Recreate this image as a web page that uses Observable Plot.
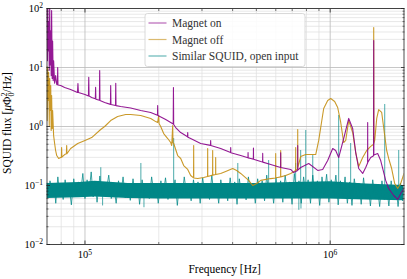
<!DOCTYPE html>
<html><head><meta charset="utf-8">
<script src="https://cdn.jsdelivr.net/npm/d3@7"></script>
<script src="https://cdn.jsdelivr.net/npm/@observablehq/plot@0.6"></script>
<style>body{margin:0;background:#fff;} svg{display:block}</style>
</head><body><div id="chart"></div>
<script>
// frequencies in kHz, values in µΦ0²/Hz
const magnetOn = [[70.0,200],[70.3,13],[70.5,150],[70.8,19],[71.1,60],[71.5,9],[71.8,150],[72.1,11],[72.5,42],[72.8,7.3],[73.1,92],[73.5,6.5],[73.8,28],[74.2,6],[74.5,13],[75.2,5.4],[75.9,7.3],[76.7,5.15],[77.2,5.1],[77.4,10],[77.6,5.05],[79.6,4.95],[82.6,4.58],[87.4,4.24],[93.2,3.78],[93.6,5.36],[94.0,3.76],[100,3.48],[103.3,3.3],[103.6,6.8],[103.9,3.28],[106.5,3.1],[110.2,2.95],[110.5,4.6],[110.8,2.9],[114.5,2.78],[114.8,8.9],[115.1,2.76],[120.3,2.55],[127.0,2.37],[127.3,4.95],[127.6,2.36],[133.2,2.27],[133.5,5.4],[133.8,2.26],[139.8,2.18],[153.6,2.06],[168.8,1.87],[185.4,1.73],[197.5,1.55],[197.9,2.27],[198.3,1.54],[213.4,1.31],[223.7,1.17],[229.0,1.1],[229.5,4.58],[230.0,1.08],[234.4,0.96],[245.7,0.79],[262.0,0.67],[262.4,0.79],[262.8,0.66],[269.8,0.625],[296.4,0.515],[325.0,0.478],[325.5,0.58],[326.0,0.476],[357.6,0.424],[392.5,0.362],[392.9,0.44],[393.4,0.36],[431.5,0.322],[462,0.295],[462.5,0.362],[463,0.294],[474.1,0.287],[486,0.28],[486.5,0.43],[487,0.279],[520.8,0.255],[530.2,0.25],[530.6,0.35],[531,0.249],[572.0,0.227],[628,0.202],[628.3,0.36],[628.7,0.202],[690.2,0.187],[710.0,0.166],[737,0.18],[737.2,0.477],[737.5,0.182],[758.2,0.202],[817.3,0.236],[889.5,0.18],[932.1,0.187],[976.8,0.265],[1024,0.424],[1053,0.392],[1083,0.298],[1135,0.625],[1190,1.37],[1235,0.925],[1271,0.362],[1307,0.194],[1357,0.16],[1396,0.202],[1421,0.24],[1422,1.17],[1423,0.245],[1463,0.298],[1503,0.32],[1505,28.7],[1507,0.33],[1562,0.348],[1607,0.265],[1684,0.122],[1732,0.089],[1816,0.0677],[1885,0.058],[1939,0.073],[2000,0.089]];

const magnetOff = [[70.0,10.4],[70.1,1.26],[70.5,9.6],[70.8,2.76],[71.1,8.2],[71.5,1.04],[71.8,6.5],[72.1,1.87],[72.5,4.95],[72.8,0.855],[73.1,3.35],[73.5,0.925],[73.8,1.87],[74.5,0.70],[75.2,0.515],[75.9,0.392],[76.7,0.322],[78.1,0.287],[79.6,0.298],[80.1,0.30],[80.3,0.44],[80.5,0.302],[82.6,0.335],[84.0,0.345],[84.2,0.477],[84.4,0.346],[87.4,0.424],[93.4,0.515],[100,0.58],[106.5,0.65],[115.9,0.89],[120.3,1.0],[127.3,1.26],[135.9,1.48],[146.6,1.60],[153.6,1.60],[168.8,1.54],[185.4,1.37],[194.3,1.21],[197.9,1.17],[199.8,1.54],[200.5,1.12],[203.6,1.0],[209.4,0.76],[217.5,0.625],[223.7,0.535],[225.8,0.477],[227.9,1.04],[228.5,0.53],[230.1,0.515],[238.8,0.322],[245.7,0.287],[252.7,0.218],[262.4,0.187],[269.8,0.148],[277.2,0.135],[277.5,0.477],[277.8,0.134],[288.1,0.131],[304.8,0.137],[316.2,0.142],[316.5,0.424],[316.8,0.142],[331.4,0.15],[331.7,0.392],[332,0.15],[341,0.154],[341.2,0.298],[341.4,0.154],[357.6,0.16],[374.8,0.173],[400.3,0.194],[415.6,0.18],[431.5,0.16],[465.2,0.122],[483.1,0.1],[501.6,0.108],[520.8,0.122],[572.0,0.131],[599.2,0.134],[599.5,0.348],[599.8,0.135],[610.9,0.137],[628,0.14],[628.3,0.392],[628.6,0.14],[658.5,0.148],[690.2,0.16],[723,0.18],[723.4,0.44],[723.8,0.18],[737,0.19],[737.2,0.89],[737.5,0.2],[758.2,0.31],[794.6,0.335],[872.9,0.335],[897.8,0.58],[940.8,2.02],[976.8,2.76],[1005,2.98],[1043,2.65],[1073,2.10],[1104,1.17],[1135,0.535],[1157,0.58],[1190,1.26],[1235,0.79],[1271,0.362],[1307,0.21],[1357,0.298],[1409,0.392],[1463,0.46],[1503,0.5],[1505,47.6],[1507,0.52],[1519,0.58],[1548,1.37],[1577,1.94],[1622,1.73],[1669,0.70],[1700,0.392],[1732,0.287],[1781,0.194],[1833,0.108],[1885,0.089],[1939,0.108],[2000,0.16]];

const openInput = [[70,0.11],[71,0.062],[72,0.12],[73.5,0.075],[75,0.1],[76,0.05],[77.5,0.14],[79,0.068],[80,0.095],[81.5,0.058],[83,0.125],[84.5,0.072],[86,0.105],[88,0.047],[90,0.13],[92,0.066],[94,0.115],[96,0.075],[98,0.16],[100,0.06],[102,0.125],[104,0.08],[106,0.17],[108,0.064],[110,0.115],[112,0.052],[115,0.145],[117,0.07],[120,0.11],[122,0.078],[125,0.15],[128,0.06],[131,0.1],[134,0.05],[137,0.12],[140,0.07],[143,0.14],[146,0.062],[150,0.1],[153,0.056],[157,0.13],[160,0.074],[164,0.11],[167,0.048],[171,0.125],[175,0.068],[179,0.1],[183,0.06],[187,0.14],[191,0.072],[195,0.105],[199,0.05],[204,0.12],[208,0.066],[213,0.135],[218,0.058],[223,0.1],[228,0.07],[233,0.125],[238,0.046],[243,0.11],[249,0.064],[254,0.14],[260,0.07],[265,0.1],[271,0.055],[277,0.125],[283,0.068],[289,0.115],[295,0.05],[302,0.135],[308,0.072],[315,0.105],[322,0.058],[329,0.15],[336,0.064],[343,0.11],[351,0.05],[358,0.125],[366,0.07],[374,0.1],[382,0.055],[391,0.135],[399,0.066],[408,0.115],[417,0.048],[426,0.13],[435,0.07],[445,0.105],[454,0.057],[464,0.14],[474,0.068],[485,0.11],[495,0.05],[506,0.13],[517,0.072],[528,0.12],[540,0.055],[551,0.15],[563,0.066],[576,0.11],[588,0.05],[601,0.135],[614,0.07],[628,0.12],[641,0.052],[655,0.15],[670,0.07],[684,0.115],[699,0.048],[714,0.16],[730,0.066],[746,0.12],[762,0.05],[779,0.14],[796,0.072],[813,0.125],[831,0.05],[849,0.15],[868,0.064],[887,0.12],[906,0.046],[926,0.14],[946,0.07],[967,0.155],[988,0.052],[1010,0.125],[1032,0.068],[1055,0.15],[1078,0.047],[1101,0.12],[1125,0.064],[1150,0.14],[1175,0.05],[1201,0.115],[1227,0.046],[1254,0.13],[1282,0.066],[1310,0.11],[1338,0.048],[1368,0.135],[1397,0.06],[1428,0.105],[1459,0.045],[1491,0.125],[1524,0.062],[1557,0.1],[1591,0.044],[1626,0.12],[1662,0.058],[1698,0.1],[1735,0.045],[1773,0.12],[1812,0.06],[1852,0.1],[1892,0.044],[1934,0.11],[1976,0.055],[2000,0.09]];
// dense core of the open-input noise: [kHz, upper, lower]
const openInputCore = [[70,0.108,0.06],[95,0.112,0.062],[110,0.118,0.064],[150,0.108,0.06],[200,0.108,0.059],[300,0.108,0.059],[500,0.108,0.059],[700,0.112,0.059],[1000,0.116,0.059],[1400,0.106,0.057],[2000,0.1,0.055]];
// isolated spikes of the open-input noise: [kHz, from, to]
const openInputSpikes = [[116,0.08,0.2],[169,0.08,0.236],[230,0.08,0.625],[420,0.08,0.236],[561,0.08,0.265],[723,0.08,0.236],[758,0.08,0.392],[795,0.08,0.855],[849,0.08,0.322],[1083,0.08,1.54],[1212,0.08,0.515],[1669,0.08,2.36],[1903,0.08,0.392],[174,0.08,0.042],[745,0.08,0.038],[760,0.08,0.04],[118,0.08,0.045]];

const seriesNames = ["Magnet on", "Magnet off", "Similar SQUID, open input"];
const seriesColors = ["#880088", "#c48e12", "#008787"];
const xMajor = [1e5, 1e6];
const xMinor = [8e4, 9e4, 2e5, 3e5, 4e5, 5e5, 6e5, 7e5, 8e5, 9e5];
const yMajor = [1e-2, 1e-1, 1, 10, 100];
const yMinor = [2e-2,3e-2,4e-2,5e-2,6e-2,7e-2,8e-2,9e-2,0.2,0.3,0.4,0.5,0.6,0.7,0.8,0.9,2,3,4,5,6,7,8,9,20,30,40,50,60,70,80,90];
const xTitle = "Frequency [Hz]";

const F = "'Liberation Serif', 'Times New Roman', serif";
const fmt = d => "10^" + String(Math.round(Math.log10(d))).replace("-", "\u2212");
const X = d => d[0] * 1e3;

const chart = Plot.plot({
  width: 407, height: 279,
  marginLeft: 46.5, marginRight: 3.5, marginTop: 8, marginBottom: 35,
  x: {type: "log", domain: [7e4, 2e6], axis: null},
  y: {type: "log", domain: [1e-2, 1e2], axis: null},
  style: {fontFamily: F, fontSize: "10.5px", background: "white", color: "#000"},
  marks: [
    Plot.gridX(xMinor, {stroke: "#dedede", strokeOpacity: 1, strokeWidth: 0.7}),
    Plot.gridY(yMinor, {stroke: "#dedede", strokeOpacity: 1, strokeWidth: 0.7}),
    Plot.gridX(xMajor, {stroke: "#b9b9b9", strokeOpacity: 1, strokeWidth: 0.8}),
    Plot.gridY(yMajor, {stroke: "#b9b9b9", strokeOpacity: 1, strokeWidth: 0.8}),
    Plot.areaY(openInputCore, {x: X, y1: d => d[2], y2: d => d[1], fill: seriesColors[2], fillOpacity: 1, clip: true}),
    Plot.line(openInput, {x: X, y: d => d[1], stroke: seriesColors[2], strokeWidth: 0.9, strokeOpacity: 0.85, clip: true}),
    Plot.ruleX(openInputSpikes, {x: X, y1: d => d[1], y2: d => d[2], stroke: seriesColors[2], strokeWidth: 1, strokeOpacity: 0.7, clip: true}),
    Plot.line(magnetOff, {x: X, y: d => d[1], stroke: seriesColors[1], strokeWidth: 1.1, strokeOpacity: 0.9, clip: true}),
    Plot.line(magnetOn, {x: X, y: d => d[1], stroke: seriesColors[0], strokeWidth: 1.1, strokeOpacity: 0.9, clip: true}),
    Plot.frame({stroke: "#222", strokeWidth: 0.8}),
    // inward ticks on all four sides
    Plot.axisX(xMajor, {anchor: "bottom", tickSize: -3.5, fill: "none", stroke: "#222", strokeWidth: 0.8, label: null}),
    Plot.axisX(xMinor, {anchor: "bottom", tickSize: -2, fill: "none", stroke: "#222", strokeWidth: 0.6, label: null}),
    Plot.axisX(xMajor, {anchor: "top", tickSize: -3.5, fill: "none", stroke: "#222", strokeWidth: 0.8, label: null}),
    Plot.axisX(xMinor, {anchor: "top", tickSize: -2, fill: "none", stroke: "#222", strokeWidth: 0.6, label: null}),
    Plot.axisY(yMajor, {anchor: "left", tickSize: -3.5, fill: "none", stroke: "#222", strokeWidth: 0.8, label: null}),
    Plot.axisY(yMinor, {anchor: "left", tickSize: -2, fill: "none", stroke: "#222", strokeWidth: 0.6, label: null}),
    Plot.axisY(yMajor, {anchor: "right", tickSize: -3.5, fill: "none", stroke: "#222", strokeWidth: 0.8, label: null}),
    Plot.axisY(yMinor, {anchor: "right", tickSize: -2, fill: "none", stroke: "#222", strokeWidth: 0.6, label: null}),
    // tick labels
    Plot.axisX(xMajor, {anchor: "bottom", tickSize: 0, tickPadding: 6, tickFormat: fmt, label: null, fontSize: 10.5}),
    Plot.axisY(yMajor, {anchor: "left", tickSize: 0, tickPadding: 4, tickFormat: fmt, label: null, fontSize: 10.5})
  ]
});
document.getElementById("chart").appendChild(chart);

const svg = d3.select(chart);
// superscript exponents in tick labels
svg.selectAll("text").each(function() {
  const s = this.textContent, m = s.match(/^10\^(.*)$/);
  if (!m) return;
  const t = d3.select(this);
  t.text(null);
  t.append("tspan").text("10");
  t.append("tspan").attr("dy", "-0.45em").attr("font-size", "0.72em").text(m[1]);
});

// axis titles
svg.append("text").attr("x", 224.7).attr("y", 273).attr("text-anchor", "middle")
  .attr("font-family", F).attr("font-size", 11.5).attr("fill", "#000").text(xTitle);
const yl = svg.append("text").attr("transform", "translate(11,123) rotate(-90)").attr("text-anchor", "middle")
  .attr("font-family", F).attr("font-size", 11.5).attr("fill", "#000");
yl.append("tspan").text("SQUID flux [");
yl.append("tspan").attr("font-style", "italic").text("\u03bc");
yl.append("tspan").text("\u03a6");
yl.append("tspan").attr("font-size", 8).attr("dy", -4.5).text("2");
yl.append("tspan").attr("font-size", 8).attr("dx", -4).attr("dy", 7.5).text("0");
yl.append("tspan").attr("dy", -3).text("/Hz]");

// legend
const lg = svg.append("g");
lg.append("rect").attr("x", 145).attr("y", 13.5).attr("width", 160).attr("height", 53).attr("rx", 2.5)
  .attr("fill", "white").attr("fill-opacity", 0.85).attr("stroke", "#d0d0d0").attr("stroke-width", 0.8);
seriesNames.forEach((name, i) => {
  const cy = 23 + i * 16.5;
  lg.append("line").attr("x1", 148.5).attr("x2", 166.5).attr("y1", cy).attr("y2", cy)
    .attr("stroke", seriesColors[i]).attr("stroke-width", 1.2).attr("stroke-opacity", 0.6);
  lg.append("text").attr("x", 172).attr("y", cy + 4).attr("text-anchor", "start").attr("font-family", F).attr("font-size", 11.5)
    .attr("fill", "#333").text(name);
});
</script></body></html>
